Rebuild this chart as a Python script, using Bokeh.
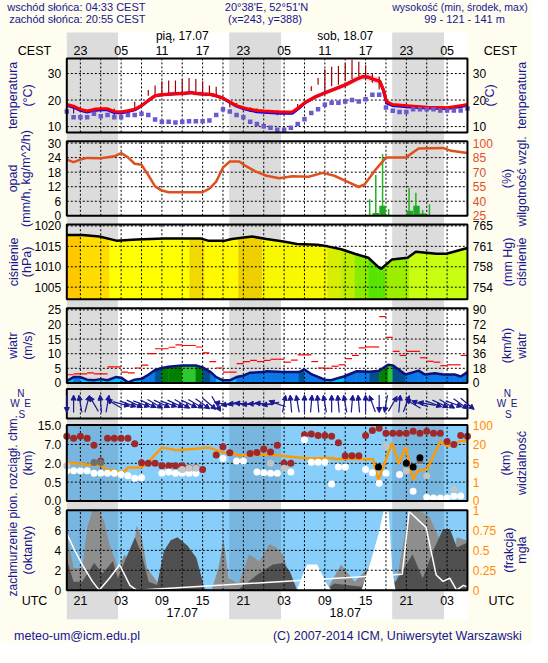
import numpy as np
from bokeh.plotting import figure
from bokeh.models import Range1d, ColumnDataSource, Arrow, NormalHead
from bokeh.embed import file_html
from bokeh.resources import INLINE
from bokeh.core.properties import value

# ---------------- data (time = hours since 17.07 00 UTC) ----------------
NIGHT_START = [-5.0, 18.92, 42.92]
NIGHT_END = [2.55, 26.55, 50.55]
GRID_T = list(range(-3, 52, 3))
HOUR_T = [-3, 3, 9, 15, 21, 27, 33, 39, 45, 51]
CEST_LABELS = ["23", "05", "11", "17", "23", "05", "11", "17", "23", "05"]
UTC_LABELS = ["21", "03", "09", "15", "21", "03", "09", "15", "21", "03"]
DATE_T = [12, 36]
DATE_TOP = ["pią, 17.07", "sob, 18.07"]
DATE_BOTTOM = ["17.07", "18.07"]

# temperature (°C)
temp_t = [-5, -4, -3, -2, -1, 0, 1, 2, 3, 4, 5, 6, 7, 8, 9, 10, 11, 12, 13.4, 14,
          15, 16.2, 17, 18, 19.1, 20, 21, 22, 23, 24, 26.5, 28.2, 29.2, 30.1, 31.6, 33.1, 34.7, 36.1, 37.5, 38.7,
          39.4, 40.1, 41.1, 41.6, 42.1, 43, 45.1, 48.1, 51, 53, 54]
temp = [18.3, 17.7, 16.5, 15.9, 16.5, 16.7, 16.7, 15.7, 15.5, 16.0, 16.5, 17.9, 19.8, 21.6, 22.0, 22.2, 22.4, 22.5, 22.8, 22.5,
        22.3, 22.1, 21.6, 20.7, 19.1, 17.9, 17.1, 16.5, 16.1, 15.9, 15.5, 15.5, 17.3, 19.1, 21.2, 22.8, 24.4, 25.8, 27.7, 28.9,
        28.6, 27.9, 27.1, 24.0, 19.4, 18.3, 17.9, 17.3, 17.1, 17.9, 18.3]
temp_spread = [0.6, 0.6, 0.6, 0.6, 0.6, 0.6, 0.6, 0.6, 0.6, 0.6, 0.6, 0.7, 0.7, 0.8, 0.8, 0.8, 0.8, 0.9, 0.9, 0.9,
               0.9, 0.9, 0.9, 0.8, 0.8, 0.7, 0.6, 0.6, 0.6, 0.6, 0.5, 0.5, 0.6, 0.8, 0.9, 1.0, 1.0, 1.1, 1.2, 1.3,
               1.4, 1.4, 1.5, 1.2, 0.8, 0.6, 0.5, 0.5, 0.5, 0.5, 0.5]
temp_ground = [18.0, 17.3, 16.1, 15.5, 16.1, 16.3, 16.3, 15.3, 15.1, 15.7, 16.3, 17.8, 19.8, 21.6, 22.0, 22.2, 22.4, 22.5, 22.8, 22.5,
               22.3, 22.1, 21.6, 20.7, 19.0, 17.7, 16.8, 16.1, 15.6, 15.4, 15.0, 15.0, 17.0, 19.0, 21.2, 22.8, 24.4, 25.8, 27.7, 28.9,
               28.6, 27.9, 27.1, 23.8, 18.9, 17.9, 17.5, 17.0, 16.8, 17.6, 18.0]
bar_t = [-4, 2, 5, 7, 8, 9, 10, 11, 12, 13, 14, 15, 16, 17, 19, 20, 22, 23, 26, 29,
         31, 32, 33, 34, 35, 36, 37, 38, 39, 40, 41]
bar_lo = [14.9, 14.3, 16.5, 21.6, 22.0, 22.2, 22.2, 22.5, 22.5, 22.5, 22.5, 22.3, 22.0, 21.6, 17.3, 17.9, 15.5, 15.4, 14.3, 16.7,
          23.4, 25.8, 23.1, 25.2, 25.8, 27.1, 27.9, 28.9, 28.6, 26.5, 24.0]
bar_hi = [17.9, 16.7, 19.4, 23.8, 25.5, 27.1, 27.4, 27.4, 27.9, 28.3, 27.9, 27.1, 25.5, 25.0, 19.4, 18.9, 17.3, 16.8, 16.1, 18.5,
          25.2, 28.3, 31.6, 32.6, 32.8, 33.8, 35.2, 34.4, 33.1, 29.9, 28.9]
dew_t = list(range(-5, 55))
dew = [15.7, 13.5, 13.5, 13.5, 14.8, 13.9, 14.4, 13.5, 13.5, 14.4, 14.4, 14.8, 14.4, 12.7, 11.8, 11.8, 11.5, 11.8, 12.0, 12.0,
       12.0, 12.3, 14.4, 16.5, 15.7, 14.4, 13.5, 11.8, 11.0, 10.1, 9.6, 8.8, 8.8, 9.6, 11.0, 12.8, 15.1, 16.5, 18.2, 19.0,
       19.0, 19.5, 20.0, 19.5, 20.3, 22.0, 22.0, 17.2, 16.0, 15.5, 15.5, 16.5, 16.5, 16.5, 16.5, 16.1, 16.1, 16.1, 16.1, 16.8]

# precipitation (mm/h) and relative humidity (%)
rain_t = [40.5, 41.5, 45.5, 46.5, 47.4]
rain = [1.2, 4.1, 2.1, 4.1, 1.0]
rain_max_t = [39.6, 40.5, 41.5, 42.4, 45.4, 46.4, 47.4, 48.4]
rain_max = [6.8, 16.8, 25.5, 2.8, 11.5, 9.5, 2.4, 4.8]
hum_t = [-5, -4, -3, -2, 0, 1, 2, 3, 4, 5, 6, 7, 8, 9, 10, 12, 15, 16, 17, 18,
         19, 20.4, 21.2, 22.7, 24.4, 26.3, 28.2, 30.6, 32.7, 34.4, 36.3, 38, 38.9, 40.6, 42, 44.9, 46.8, 50.4, 51.6, 54]
hum = [83, 80.3, 83, 84.7, 84.3, 85.3, 86.3, 89.7, 85.3, 78.7, 77.7, 67, 55.3, 51, 49.3, 49.3, 49.3, 53, 60.3, 74.7,
       81, 81, 77, 71, 66.3, 63.7, 65.7, 65.3, 69.3, 66.3, 60.3, 54.7, 57.7, 73.7, 85, 85, 94.3, 95, 92, 89.7]

# pressure (hPa)
pres_t = [-5, -2.7, -0.2, 2.3, 5.3, 9.3, 14.8, 15.8, 18.3, 19.3, 22.3, 24.4, 26.9, 28.9, 31.9, 33.4, 35.4, 37.4, 39.4, 40.9,
          41.3, 42.9, 45.2, 46.4, 49.4, 50.9, 54]
pres = [1017.8, 1017.8, 1017.4, 1016.4, 1016.7, 1016.9, 1016.9, 1016.4, 1016.4, 1016.8, 1017.4, 1016.8, 1016.2, 1015.6, 1015.4,
        1015.0, 1014.3, 1013.2, 1012.2, 1009.9, 1009.5, 1011.8, 1012.2, 1013.7, 1013.2, 1013.2, 1014.6]
pres_col_edges = [-5, -3, 1.3, 13.1, 15.3, 20.3, 23.8, 33.4, 35.4, 37.4, 39.4, 41.9, 45.4, 54]
pres_cols = ["#FFC800", "#FFDC00", "#FFFF00", "#F0D800", "#FFFA00", "#EED000", "#F8F800", "#D8EE00", "#C0EE00",
             "#8CEC00", "#58E400", "#9CEE00", "#C8FF10"]

# wind (m/s)
wind_t = [-5, -4, -3, -2, -1, 0, 1, 2.2, 3, 4, 5, 6, 7, 8, 9, 10, 12, 14, 15, 16.2,
          17, 18, 19, 20, 21, 22, 24, 24.4, 26.7, 29.2, 30, 31.1, 33, 33.9, 35.8, 37.7, 39.6, 41, 42.3, 43,
          44.9, 46.8, 47.7, 49.2, 50.4, 52.1, 53, 54]
wind = [0.66, 2.0, 2.0, 1.1, 0.9, 1.3, 0.9, 2.0, 1.8, 0.2, 1.1, 1.4, 2.8, 4.4, 5.1, 5.5, 6.0, 6.0, 5.3, 3.7,
        2.0, 0.9, 0.9, 2.0, 2.5, 3.5, 3.7, 4.0, 3.7, 3.7, 4.6, 2.9, 1.1, 0.9, 2.2, 4.0, 3.8, 4.2, 6.2, 6.0,
        2.9, 4.2, 2.9, 3.3, 2.9, 2.9, 2.2, 3.7]
gust_t = list(range(-5, 54))
gust = [2.8, 3.1, 3.1, 3.4, 3.1, 3.1, 5.5, 5.5, 3.7, 3.4, 5.1, 6.1, 10.0, 11.7, 11.7, 12.2, 13.0, 12.8, 12.8, 12.3,
        10.3, 7.3, 5.1, 3.7, 3.7, 6.6, 7.3, 7.7, 7.3, 7.7, 8.1, 8.1, 7.1, 7.8, 9.6, 9.6, 7.3, 5.1, 5.0, 5.7,
        6.2, 8.3, 9.4, 12.0, 12.3, 12.3, 22.7, 15.6, 10.8, 9.4, 10.8, 10.8, 8.6, 7.4, 7.1, 5.9, 6.2, 6.2, 9.4]
wind_levels = [2.0, 4.0, 5.0, 6.0]
wind_cols = ["#00C0F8", "#0A78E6", "#004F8F", "#007F00", "#2DC82D"]
arrow_t = list(range(-5, 55))
arrow_dir = [270, 90, 100, 75, 120, 95, 80, 150,
             -15, -20, -25, -20, -25, -30, -25, -20, -25, -30, -25, -30, -35, -40, -60,
             170, 190, 180, 175, 185, 180, 175, 190, 160,
             80, 95, 100, 90, 85, 95, 100, 90, 95, 100, 85, 95, 90, 110,
             270, 260, 60, 85, 70, 150, 160, 170, -20, -25, -30, -20, -35, -40]

# visibility (km) and cloud layers (km)
vis_t = [-5, -4, -3, -1, 0, 1, 2, 3, 3.6, 4, 6, 7, 8, 9, 10, 11, 13.5, 16, 17, 18,
         19.5, 20, 22, 24, 25.8, 30.6, 33.9, 34.6, 36.1, 40.1, 40.9, 42.9, 43.9, 44.9, 46.0, 46.7, 48.1, 50.0, 51.0, 51.9,
         52.9, 54]
vis = [5.75, 5.0, 4.9, 4.6, 4.6, 3.6, 3.4, 3.1, 3.4, 4.1, 4.1, 5.7, 12, 17.5, 16.7, 15.5, 16.5, 17.5, 15.5, 13.6,
       13.6, 11.5, 11.5, 12, 11.5, 8.9, 9.3, 8.4, 8.4, 8.2, 1.5, 27, 4.9, 18, 1.5, 3.4, 3.8, 33, 18.8, 20, 34, 36]
VIS_TICKS = [0, 1, 5, 20, 100]
CB_TICKS = [0, 0.5, 2, 7, 15]
nan = float("nan")
cb_t = list(range(-5, 55))
cb_red = [10.5, 9.7, 10.5, 9.7, 6.8, 2.6, 9.7, 9.7, 9.7, 9.7, 7.3, 2.15, 2.0, 2.0, 1.8, 1.8, 1.8, 1.8, 1.65, 1.65,
          1.5, nan, 4.2, 6.4, 4.8, nan, nan, 4.6, 4.9, 5.8, 5.0, 6.8, 2.0, 2.0, nan, 11.1, 11.5, 10.8, 10.8, 10.5,
          7.7, 4.0, 4.0, 4.0, 10.8, 13.0, 13.9, 11.8, 11.8, 11.8, 11.8, 12.6, 11.8, 12.6, 11.8, 11.8, 8.3, 7.0, 10.8, 10.5]
cb_white = [1.4, 1.4, 1.4, 1.4, 1.2, 1.2, 1.2, 1.2, 1.1, 1.0, 0.8, 0.85, nan, nan, 1.2, 1.3, 1.2, 1.2, 1.2, 1.2,
            nan, nan, nan, 3.3, nan, 2.6, 2.6, nan, 1.3, 1.25, 1.2, 1.2, nan, 1.3, nan, 9.0, 2.3, 2.3, 2.3, 0.45,
            1.7, 1.7, nan, nan, 1.5, 1.25, 0.47, 1.2, nan, 1.1, nan, 0.26, nan, 0.1, 0.08, 0.08, 0.08, 0.13, 0.13, nan]
cb_lgray_t = [-5, 12, 13, 14, 25, 27, 42, 45, 47, 48, 52]
cb_lgray = [1.8, 1.5, 1.6, 1.6, 2.0, 1.6, 6.5, 1.4, 2.5, 1.0, 0.3]
cb_dgray_t = [-1, 0, 47]
cb_dgray = [2.2, 2.2, 2.7]
cb_black_t = [40.9, 45, 46, 47]
cb_black = [1.7, 2.0, 1.7, 3.5]

# cloud cover (octants) and fog (fraction)
low_t = [-5, -4, -2.73, -0.98, 0.27, 1.78, 2.53, 3.53, 5.04, 6.04, 7.05, 8.3, 9.3, 10.31, 11.31, 12.81, 14.07, 15.32, 16.32, 20.33,
         23.34, 25.35, 26.85, 27.86, 28.86, 33.37, 34.38, 38.39, 39.9, 40.9, 41.9, 43.4, 45.91, 47.41, 48.92, 50.43, 51.43, 52.43, 54]
low = [3.08, 0.85, 0.85, 2.74, 1.71, 2.91, 1.2, 2.91, 5.31, 3.59, 0.85, 0.51, 3.94, 5.03, 5.31, 4.45, 3.25, 0.1, 0, 0.1,
       1.71, 2.57, 2.74, 1.88, 0.1, 0.1, 0.68, 0.34, 2.22, 2.74, 1.2, 0.85, 3.59, 1.2, 3.94, 6.16, 6.16, 4.28, 4.79]
mid_t = [-5, -4, -2.73, -1.98, -1.23, -0.23, 0.53, 1.28, 2.53, 3.53, 4.54, 5.29, 6.04, 6.8, 8.3, 10.31, 16.32, 17.33, 18.08, 18.83,
         20.33, 21.84, 23.34, 24.85, 25.85, 26.85, 27.86, 28.86, 33.37, 35.38, 37.39, 39.39, 40.4, 41.9, 43.4, 45.41, 46.91, 48.42,
         50.43, 51.43, 52.43, 54]
mid = [5.65, 2.22, 2.22, 6.33, 8.0, 8.0, 6.85, 4.62, 2.22, 3.59, 2.57, 6.5, 5.31, 2.22, 0.85, 0.1, 0, 2.22, 5.14, 1.2,
       0.68, 3.59, 2.91, 4.62, 4.28, 3.59, 1.2, 0.1, 0.1, 2.57, 0.85, 2.22, 4.28, 2.22, 0.34, 8.0, 8.0, 7.36, 4.28, 2.22,
       5.31, 4.96]
conv_t = [28.86, 30.36, 31.87, 33.37, 34.0, 38.39, 39.9, 40.9, 41.65, 42.4, 42.9, 43.4]
conv = [0, 2.57, 2.57, 0.51, 0, 0, 3.25, 5.65, 8, 8, 2.22, 0]
fog_t = [-5, -4, -2.73, -1.23, -0.23, 1.28, 2.78, 4.29, 5.29, 44.4, 45.41, 47.9, 49.4, 50.4, 51.4, 52.4, 53.4, 54]
fog = [0.71, 0.53, 0.32, 0.11, 0, 0.15, 0.32, 0.06, 0, 0.2, 0.99, 0.79, 0.19, 0.11, 0.15, 0, 0.06, 0.04]

# ---------------- layout / style ----------------
FONT = "Liberation Sans"
CREAM = "#FFFCF0"
NAVY = "#16168F"
GRAY = "#DCDCDC"
SKY = "#87CEFA"
SKY_N = "#78B6E0"
T0, T1 = -5.0, 54.0
REF_W, REF_H = 548, 663          # reference page coordinates ("px")
FX0, FX1 = 68.3, 481.0           # panel frame in reference px
PW, PH = 532, 643                # canvas size
PXH = (FX1 - FX0) / (T1 - T0)    # reference px per hour
XFULL = (T0 - FX0 / PXH, T1 + (REF_W - FX1) / PXH)


def Y(py):
    return REF_H - py


p = figure(width=PW, height=PH, x_range=Range1d(*XFULL), y_range=Range1d(0, REF_H),
           x_axis_type=None, y_axis_type=None, output_backend="svg", toolbar_location=None,
           min_border=0, background_fill_color=CREAM, border_fill_color=CREAM, outline_line_color=None)
p.extra_x_ranges = {"px": Range1d(0, REF_W)}


def add_range(name, ya, va, yb, vb):
    k = (vb - va) / (yb - ya)
    f = lambda y: va + (y - ya) * k
    p.extra_y_ranges[name] = Range1d(f(REF_H), f(0))
    return f


def txt(xs, ys, texts, size="12px", color="black", align="center", xr=None, yr=None, angle=0.0):
    kw = {}
    if xr:
        kw["x_range_name"] = xr
    if yr:
        kw["y_range_name"] = yr
    p.text(x=xs, y=ys, text=texts, text_font=value(FONT), text_font_size=value(size), text_color=color,
           text_align=align, text_baseline="middle", angle=angle, **kw)


def vtitle(px, py, text, size="12.5px"):
    txt([px], [Y(py)], [text], size=size, color=NAVY, xr="px", angle=np.pi / 2)


def vgrid(top, bot):
    p.segment(x0=GRID_T, y0=Y(bot), x1=GRID_T, y1=Y(top), line_color="black", line_dash="2 2", line_width=1)


def hgrid(name, ticks):
    p.segment(x0=T0, y0=ticks, x1=T1, y1=ticks, y_range_name=name, line_color="black", line_dash="2 2", line_width=1)


def box(top, bot):
    p.quad(left=T0, right=T1, bottom=Y(bot), top=Y(top), fill_color=None, line_color="black", line_width=2)


def ticks(name, vals, labels, side, color="black"):
    x = 62.5 if side == "left" else 486.5
    txt([x] * len(vals), vals, labels, size="12px", color=color, align="right" if side == "left" else "left",
        xr="px", yr=name)


# background of the time area with night bands
p.quad(left=T0, right=T1, bottom=Y(638), top=Y(33), fill_color="white", line_color=None)
p.quad(left=NIGHT_START, right=NIGHT_END, bottom=Y(638), top=Y(33), fill_color=GRAY, line_color=None)

# ---- header ----
txt([7, 9], [Y(7), Y(19)], ["wschód słońca: 04:33 CEST", "zachód słońca: 20:55 CEST"], size="11px", color=NAVY,
    align="left", xr="px")
txt([274, 274], [Y(7), Y(19)], ["20°38'E, 52°51'N", "(x=243,  y=388)"], size="11px", color=NAVY, xr="px")
txt([543], [Y(7)], ["wysokość (min, środek, max)"], size="10.5px", color=NAVY, align="right", xr="px")
txt([478], [Y(19)], ["99 - 121 - 141 m"], size="11px", color=NAVY, xr="px")
txt([35, 515], [Y(52), Y(52)], ["CEST", "CEST"], size="12.5px", xr="px")
txt(DATE_T, [Y(37)] * 2, DATE_TOP, size="12px")
txt(HOUR_T, [Y(52)] * len(HOUR_T), CEST_LABELS, size="12.5px")

# ---- temperature ----
BT, BB = 59.7, 136
add_range("temp", 75.3, 30, 130, 10)
p.varea(x=temp_t, y1=[a - s for a, s in zip(temp, temp_spread)], y2=[a + s for a, s in zip(temp, temp_spread)],
        y_range_name="temp", fill_color="#FFB4B4", fill_alpha=0.6)
vgrid(BT, BB); hgrid("temp", [10, 20, 30])
p.segment(x0=bar_t, y0=bar_lo, x1=bar_t, y1=bar_hi, y_range_name="temp", line_color="#A00000", line_width=1.2)
p.line(temp_t, temp_ground, y_range_name="temp", line_color="#0000FF", line_width=3)
p.line(temp_t, temp, y_range_name="temp", line_color="#FF0000", line_width=3)
p.scatter(dew_t, dew, y_range_name="temp", marker="square", size=4.5, fill_color="#6A5ACD", line_color=None)
box(BT, BB)
ticks("temp", [10, 20, 30], ["10", "20", "30"], "left")
ticks("temp", [10, 20, 30], ["10", "20", "30"], "right")
ym = (BT + BB) / 2
vtitle(13, ym, "temperatura"); vtitle(28, ym, "(°C)")
vtitle(504, ym, "(°C)"); vtitle(537, ym, "temperatura")

# ---- precipitation / humidity ----
BT, BB = 145, 222
add_range("rain", 147, 30, 222, 0)
add_range("hum", 147, 100, 222, 25)
vgrid(BT, BB); hgrid("rain", [6, 12, 18, 24, 30])
p.segment(x0=rain_max_t, y0=0, x1=rain_max_t, y1=rain_max, y_range_name="rain", line_color="#22B422", line_width=1.5)
p.vbar(x=rain_t, width=0.95, bottom=0, top=rain, y_range_name="rain", fill_color="#1EAA1E", line_color=None)
p.line(hum_t, hum, y_range_name="hum", line_color="#E0501E", line_width=2.5)
box(BT, BB)
ticks("rain", [0, 6, 12, 18, 24, 30], ["0", "6", "12", "18", "24", "30"], "left")
ticks("hum", [25, 40, 55, 70, 85, 100], ["25", "40", "55", "70", "85", "100"], "right", color="#E0501E")
ym = (BT + BB) / 2
vtitle(13, ym, "opad"); vtitle(26, ym, "(mm/h, kg/m^2/h)")
vtitle(522, ym, "(%)"); vtitle(537, ym + 3, "wilgotność wzgl.")

# ---- pressure ----
BT, BB = 231, 308
fp = add_range("pres", 253.5, 1015, 295.6, 1005)
base = fp(BB)
tt = np.union1d(np.asarray(pres_t, float), np.asarray(pres_col_edges, float))
vv = np.interp(tt, pres_t, pres)
xs, ys, cs = [], [], []
for a, b, va, vb in zip(tt[:-1], tt[1:], vv[:-1], vv[1:]):
    k = min(max(int(np.searchsorted(pres_col_edges, (a + b) / 2)) - 1, 0), len(pres_cols) - 1)
    xs.append([a, b, b, a]); ys.append([va, vb, base, base]); cs.append(pres_cols[k])
p.patches(xs, ys, y_range_name="pres", fill_color=cs, line_color=cs, line_width=0.5)
vgrid(BT, BB); hgrid("pres", [1005, 1010, 1015, 1020])
p.line(pres_t, pres, y_range_name="pres", line_color="black", line_width=2.5)
box(BT, BB)
ticks("pres", [1005, 1010, 1015, 1020], ["1005", "1010", "1015", "1020"], "left")
ticks("pres", [1005, 1010, 1015, 1020], ["754", "758", "761", "765"], "right")
ym = (BT + BB) / 2
vtitle(14, ym, "ciśnienie"); vtitle(27, ym, "(hPa)")
vtitle(523, ym, "(mm Hg)"); vtitle(537, ym, "ciśnienie")

# ---- wind ----
BT, BB = 317.3, 394.3
add_range("wind", 319, 25, 394.3, 0)
add_range("kmh", 319, 90, 394.3, 0)
xs, ys, cs = [], [], []
for a, b, va, vb in zip(wind_t[:-1], wind_t[1:], wind[:-1], wind[1:]):
    c = wind_cols[int(np.digitize((va + vb) / 2, wind_levels))]
    xs.append([a, b, b, a]); ys.append([va, vb, 0, 0]); cs.append(c)
p.patches(xs, ys, y_range_name="wind", fill_color=cs, line_color=cs, line_width=0.5)
vgrid(BT, BB); hgrid("wind", [5, 10, 15, 20, 25])
p.line(wind_t, wind, y_range_name="wind", line_color="#10107A", line_width=2.5)
p.segment(x0=gust_t, y0=gust, x1=[t + 1 for t in gust_t], y1=gust, y_range_name="wind", line_color="#FF0000",
          line_width=1.2)
box(BT, BB)
ticks("wind", [0, 5, 10, 15, 20, 25], ["0", "5", "10", "15", "20", "25"], "left")
ticks("kmh", [0, 18, 36, 54, 72, 90], ["0", "18", "36", "54", "72", "90"], "right")
ym = (BT + BB) / 2
vtitle(13, ym, "wiatr"); vtitle(28, ym, "(m/s)")
vtitle(522, ym, "(km/h)"); vtitle(537, ym, "wiatr")

# ---- wind direction arrows ----
BT, BB = 400.7, 431
vgrid(BT, BB)
ang = np.radians(arrow_dir)
half = 9.0
yc = Y((BT + BB) / 2)
xc = np.asarray(arrow_t, float)
src = ColumnDataSource(dict(x0=xc - half * np.cos(ang) / PXH, y0=yc - half * np.sin(ang),
                            x1=xc + half * np.cos(ang) / PXH, y1=yc + half * np.sin(ang)))
p.add_layout(Arrow(end=NormalHead(size=5, fill_color="#1A1A90", line_color="#1A1A90", line_width=1),
                   x_start="x0", y_start="y0", x_end="x1", y_end="y1", source=src,
                   line_color="#1A1A90", line_width=1.2))
box(BT, BB)
for cx in (21, 522):
    txt([cx, cx - 6, cx + 7, cx + 1], [Y(405), Y(416), Y(416), Y(427)], ["N", "W", "E", "S"], size="10px",
        color=NAVY, xr="px")

# ---- visibility / cloud extent ----
BT, BB = 437.7, 516
add_range("vis", 438.4, 4, 516, 0)
p.quad(left=T0, right=T1, bottom=Y(BB), top=Y(BT), fill_color=SKY, line_color=None)
p.quad(left=NIGHT_START, right=NIGHT_END, bottom=Y(BB), top=Y(BT), fill_color=SKY_N, line_color=None)
vgrid(BT, BB); hgrid("vis", [1, 2, 3])
cbi = lambda v: np.interp(v, CB_TICKS, [0, 1, 2, 3, 4])
p.line(vis_t, np.interp(vis, VIS_TICKS, [0, 1, 2, 3, 4]), y_range_name="vis", line_color="#FF9900", line_width=2.5)
for tx, vx, col in ((cb_t, cb_red, "#A02828"), (cb_t, cb_white, "white"), (cb_lgray_t, cb_lgray, "#C4C4C4"),
                    (cb_dgray_t, cb_dgray, "#6E6E6E"), (cb_black_t, cb_black, "black")):
    p.scatter(tx, cbi(vx), y_range_name="vis", size=7, fill_color=col, line_color=None)
box(BT, BB)
ticks("vis", [0, 1, 2, 3, 4], ["0.0", "0.5", "2.0", "7.0", "15.0"], "left")
ticks("vis", [0, 1, 2, 3, 4], ["0", "1", "5", "20", "100"], "right", color="#FF8C00")
ym = (BT + BB) / 2
vtitle(28, ym, "(km)")
vtitle(521, ym, "(km)"); vtitle(537, ym, "widzialność")
vtitle(13, 521, "zachmurzenie pion. rozciągł. chm.", size="12px")

# ---- cloud cover / fog ----
BT, BB = 525.5, 608
add_range("cloud", 526, 8, 608, 0)
add_range("fog", 526, 1, 608, 0)
p.quad(left=T0, right=T1, bottom=Y(BB), top=Y(BT), fill_color=SKY, line_color=None)
p.quad(left=NIGHT_START, right=NIGHT_END, bottom=Y(BB), top=Y(BT), fill_color=SKY_N, line_color=None)
p.varea(x=mid_t, y1=0, y2=mid, y_range_name="cloud", fill_color="#8E8E8E")
p.varea(x=low_t, y1=0, y2=low, y_range_name="cloud", fill_color="#505050")
p.varea(x=conv_t, y1=0, y2=conv, y_range_name="cloud", fill_color="white")
vgrid(BT, BB); hgrid("cloud", [2, 4, 6])
p.line(fog_t, fog, y_range_name="fog", line_color="white", line_width=1.5)
box(BT, BB)
ticks("cloud", [0, 2, 4, 6, 8], ["0", "2", "4", "6", "8"], "left")
ticks("fog", [0, 0.25, 0.5, 0.75, 1], ["0", "0.25", "0.5", "0.75", "1"], "right", color="#FF8C00")
ym = (BT + BB) / 2
vtitle(28, ym, "(oktanty)")
vtitle(524, ym, "(frakcja)"); vtitle(537, ym, "mgła")

# ---- bottom axis / footer ----
txt(HOUR_T, [Y(619)] * len(HOUR_T), UTC_LABELS, size="12.5px")
txt(DATE_T, [Y(631.5)] * 2, DATE_BOTTOM, size="12.5px")
txt([35, 516], [Y(619), Y(619)], ["UTC", "UTC"], size="12.5px", xr="px")
txt([14], [Y(655)], ["meteo-um@icm.edu.pl"], size="12.5px", color=NAVY, align="left", xr="px")
txt([537], [Y(655)], ["(C) 2007-2014 ICM, Uniwersytet Warszawski"], size="12.5px", color=NAVY, align="right", xr="px")

open("out.html", "w").write(file_html(p, INLINE, "meteogram"))
